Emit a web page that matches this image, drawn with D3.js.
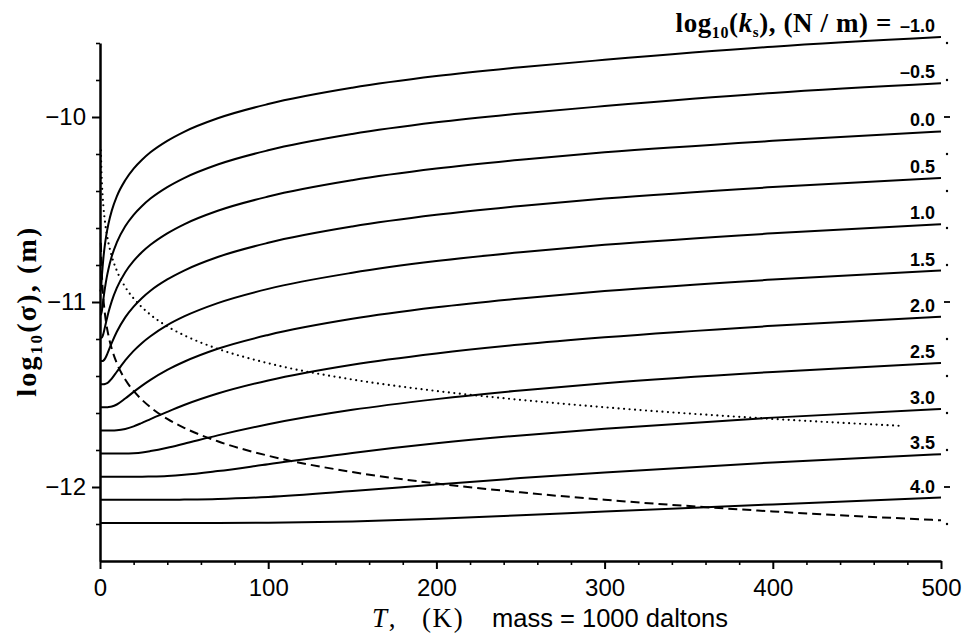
<!DOCTYPE html>
<html>
<head>
<meta charset="utf-8">
<script src="https://cdn.jsdelivr.net/npm/d3@7"></script>
<style>
  html, body { margin: 0; padding: 0; background: #fff; }
  svg { display: block; }
</style>
</head>
<body>
<script>
// ---------------- data ----------------
const temps = [0, 0.5, 1, 1.5, 2, 3, 4, 5, 7, 10, 15, 20, 25, 30, 40, 50, 70, 100, 150, 200, 250, 300, 400, 500];

const logKs = [-1.0, -0.5, 0.0, 0.5, 1.0, 1.5, 2.0, 2.5, 3.0, 3.5, 4.0];
const logKsLabels = ["–1.0", "–0.5", "0.0", "0.5", "1.0", "1.5", "2.0", "2.5", "3.0", "3.5", "4.0"];

const sigma_m1_0 = [-10.944,-10.934,-10.877,-10.816,-10.764,-10.685,-10.625,-10.578,-10.506,-10.429,-10.342,-10.279,-10.231,-10.191,-10.129,-10.080,-10.007,-9.930,-9.842,-9.779,-9.731,-9.691,-9.620,-9.568];
const sigma_m0_5 = [-11.069,-11.068,-11.054,-11.022,-10.986,-10.921,-10.867,-10.823,-10.753,-10.678,-10.591,-10.529,-10.481,-10.441,-10.379,-10.330,-10.257,-10.180,-10.092,-10.029,-9.981,-9.941,-9.870,-9.818];
const sigma_0_0 = [-11.194,-11.194,-11.193,-11.186,-11.172,-11.133,-11.094,-11.057,-10.995,-10.924,-10.839,-10.778,-10.730,-10.691,-10.629,-10.580,-10.507,-10.430,-10.342,-10.279,-10.231,-10.191,-10.129,-10.078];
const sigma_0_5 = [-11.319,-11.319,-11.319,-11.319,-11.317,-11.306,-11.288,-11.266,-11.221,-11.161,-11.083,-11.025,-10.978,-10.939,-10.878,-10.830,-10.757,-10.680,-10.592,-10.529,-10.481,-10.441,-10.379,-10.330];
const sigma_1_0 = [-11.444,-11.444,-11.444,-11.444,-11.444,-11.443,-11.440,-11.434,-11.414,-11.377,-11.316,-11.264,-11.221,-11.185,-11.125,-11.078,-11.006,-10.929,-10.842,-10.779,-10.731,-10.691,-10.629,-10.580];
const sigma_1_5 = [-11.569,-11.569,-11.569,-11.569,-11.569,-11.569,-11.569,-11.568,-11.565,-11.554,-11.522,-11.486,-11.452,-11.421,-11.367,-11.323,-11.253,-11.178,-11.091,-11.029,-10.981,-10.941,-10.879,-10.830];
const sigma_2_0 = [-11.694,-11.694,-11.694,-11.694,-11.694,-11.694,-11.694,-11.694,-11.694,-11.693,-11.686,-11.672,-11.653,-11.633,-11.594,-11.557,-11.495,-11.424,-11.339,-11.278,-11.230,-11.191,-11.129,-11.080];
const sigma_2_5 = [-11.819,-11.819,-11.819,-11.819,-11.819,-11.819,-11.819,-11.819,-11.819,-11.819,-11.819,-11.817,-11.813,-11.806,-11.788,-11.766,-11.721,-11.661,-11.583,-11.525,-11.478,-11.439,-11.378,-11.330];
const sigma_3_0 = [-11.944,-11.944,-11.944,-11.944,-11.944,-11.944,-11.944,-11.944,-11.944,-11.944,-11.944,-11.944,-11.944,-11.943,-11.940,-11.934,-11.914,-11.877,-11.816,-11.764,-11.721,-11.685,-11.625,-11.578];
const sigma_3_5 = [-12.069,-12.069,-12.069,-12.069,-12.069,-12.069,-12.069,-12.069,-12.069,-12.069,-12.069,-12.069,-12.069,-12.069,-12.069,-12.068,-12.065,-12.054,-12.022,-11.986,-11.952,-11.921,-11.867,-11.823];
const sigma_4_0 = [-12.194,-12.194,-12.194,-12.194,-12.194,-12.194,-12.194,-12.194,-12.194,-12.194,-12.194,-12.194,-12.194,-12.194,-12.194,-12.194,-12.194,-12.193,-12.186,-12.172,-12.153,-12.133,-12.094,-12.057];

const dottedT = [0.5, 1, 1.5, 2, 3, 4, 5, 7, 10, 15, 20, 25, 30, 40, 50, 70, 100, 150, 200, 250, 300, 400, 475];
const dottedV = [-10.180,-10.330,-10.419,-10.481,-10.569,-10.632,-10.680,-10.753,-10.831,-10.919,-10.981,-11.029,-11.069,-11.132,-11.180,-11.253,-11.331,-11.419,-11.481,-11.529,-11.569,-11.632,-11.669];

const dashedT = [0.5, 1, 1.5, 2, 3, 4, 5, 7, 10, 15, 20, 25, 30, 40, 50, 70, 100, 150, 200, 250, 300, 400, 500];
const dashedV = [-10.680,-10.830,-10.919,-10.981,-11.069,-11.132,-11.180,-11.253,-11.331,-11.419,-11.481,-11.529,-11.569,-11.632,-11.680,-11.753,-11.831,-11.919,-11.981,-12.029,-12.069,-12.132,-12.180];

const xMajorTicks = [0, 100, 200, 300, 400, 500];
const xMinorTicks = [20, 40, 60, 80, 120, 140, 160, 180, 220, 240, 260, 280, 320, 340, 360, 380, 420, 440, 460, 480];
const yMajorTicks = [-12, -11, -10];
const yMinorTicks = [-12.2, -11.8, -11.6, -11.4, -11.2, -10.8, -10.6, -10.4, -10.2, -9.8, -9.6];

// ---------------- layout ----------------
const W = 968, H = 640;
const SANS = "'Liberation Sans', Arial, Helvetica, sans-serif";
const SERIF = "'Liberation Serif', 'Times New Roman', serif";

const svg = d3.select("body").append("svg")
  .attr("width", W).attr("height", H)
  .attr("viewBox", `0 0 ${W} ${H}`);
svg.append("rect").attr("width", W).attr("height", H).attr("fill", "#fff");

const x = d3.scaleLinear().domain([0, 500]).range([100, 941]);
const y = d3.scaleLinear().domain([-12.4, -9.6]).range([561, 43]);

const series = [sigma_m1_0, sigma_m0_5, sigma_0_0, sigma_0_5, sigma_1_0, sigma_1_5,
                sigma_2_0, sigma_2_5, sigma_3_0, sigma_3_5, sigma_4_0];

const line = d3.line()
  .x(d => x(d[0])).y(d => y(d[1]))
  .curve(d3.curveMonotoneX);

// solid curves
svg.append("g").selectAll("path")
  .data(series)
  .join("path")
  .attr("d", vals => line(temps.map((t, i) => [t, vals[i]])))
  .attr("fill", "none").attr("stroke", "#000").attr("stroke-width", 2);

// dotted curve
svg.append("path")
  .attr("d", line(dottedT.map((t, i) => [t, dottedV[i]])))
  .attr("fill", "none").attr("stroke", "#000")
  .attr("stroke-width", 2.2).attr("stroke-linecap", "round")
  .attr("stroke-dasharray", "0 5.5");

// dashed curve
svg.append("path")
  .attr("d", line(dashedT.map((t, i) => [t, dashedV[i]])))
  .attr("fill", "none").attr("stroke", "#000")
  .attr("stroke-width", 2).attr("stroke-dasharray", "9 5");

// ---------------- axes ----------------
const yAxisMajor = d3.axisLeft(y).tickValues(yMajorTicks).tickSize(8).tickSizeOuter(0)
  .tickPadding(6).tickFormat(d3.format("d"));
const gy = svg.append("g").attr("transform", `translate(${x(0)},0)`).call(yAxisMajor);
gy.select(".domain").attr("stroke-width", 2.5);
gy.selectAll(".tick line").attr("stroke-width", 2);
gy.selectAll(".tick text").attr("font-family", SANS).attr("font-size", 24).attr("fill", "#000");

const yAxisMinor = d3.axisLeft(y).tickValues(yMinorTicks).tickSize(4).tickFormat("");
const gy2 = svg.append("g").attr("transform", `translate(${x(0)},0)`).call(yAxisMinor);
gy2.select(".domain").remove();
gy2.selectAll(".tick line").attr("stroke-width", 1.6);

const xAxisMajor = d3.axisBottom(x).tickValues(xMajorTicks).tickSize(8).tickSizeOuter(0)
  .tickPadding(10).tickFormat(d3.format("d"));
const gx = svg.append("g").attr("transform", `translate(0,${y(-12.4)})`).call(xAxisMajor);
gx.select(".domain").attr("stroke-width", 2.5);
gx.selectAll(".tick line").attr("stroke-width", 2);
gx.selectAll(".tick text").attr("font-family", SANS).attr("font-size", 24).attr("fill", "#000");

const xAxisMinor = d3.axisBottom(x).tickValues(xMinorTicks).tickSize(4).tickFormat("");
const gx2 = svg.append("g").attr("transform", `translate(0,${y(-12.4)})`).call(xAxisMinor);
gx2.select(".domain").remove();
gx2.selectAll(".tick line").attr("stroke-width", 1.6);

// faint right-side tick marks
const rx = x(500) + 6;
svg.append("g").selectAll("circle")
  .data(yMinorTicks)
  .join("circle")
  .attr("cx", rx).attr("cy", d => y(d)).attr("r", 1.2).attr("fill", "#000");
svg.append("g").selectAll("line")
  .data(yMajorTicks)
  .join("line")
  .attr("x1", rx - 3).attr("x2", rx + 3)
  .attr("y1", d => y(d)).attr("y2", d => y(d))
  .attr("stroke", "#000").attr("stroke-width", 1.8);

// ---------------- curve labels ----------------
svg.append("g").selectAll("text")
  .data(series)
  .join("text")
  .attr("x", x(500) - 6)
  .attr("y", vals => y(vals[vals.length - 1]) - 5)
  .attr("text-anchor", "end")
  .attr("font-family", SANS).attr("font-size", 18).attr("font-weight", "bold")
  .text((vals, i) => logKsLabels[i]);

// header "log10(ks), (N/m) ="
const hdr = svg.append("text")
  .attr("x", x(500) - 49).attr("y", y(sigma_m1_0[sigma_m1_0.length - 1]) - 5)
  .attr("text-anchor", "end")
  .attr("font-family", SERIF).attr("font-size", 27).attr("font-weight", "bold")
  .attr("letter-spacing", 0.6);
hdr.append("tspan").text("log");
hdr.append("tspan").attr("font-size", 16).attr("dy", 6).text("10");
hdr.append("tspan").attr("dy", -6).text("(");
hdr.append("tspan").attr("font-style", "italic").text("k");
hdr.append("tspan").attr("font-size", 15).attr("dy", 5).text("s");
hdr.append("tspan").attr("dy", -5).text("),  (N / m) =");

// y axis label
const yl = svg.append("text")
  .attr("transform", "translate(36,311) rotate(-90)")
  .attr("text-anchor", "middle")
  .attr("font-family", SERIF).attr("font-size", 28).attr("font-weight", "bold")
  .attr("letter-spacing", 2.2);
yl.append("tspan").text("log");
yl.append("tspan").attr("font-size", 17).attr("dy", 6).text("10");
yl.append("tspan").attr("dy", -6).text("(σ),  (m)");

// x axis label
const xl = svg.append("text")
  .attr("x", 372).attr("y", 627)
  .attr("font-family", SERIF).attr("font-size", 27).attr("letter-spacing", 1.6)
  .style("white-space", "pre");
xl.append("tspan").attr("font-style", "italic").text("T");
xl.append("tspan").text(",   (K)");
svg.append("text")
  .attr("x", 492).attr("y", 627)
  .attr("font-family", SANS).attr("font-size", 25.5)
  .text("mass = 1000 daltons");
</script>
</body>
</html>
